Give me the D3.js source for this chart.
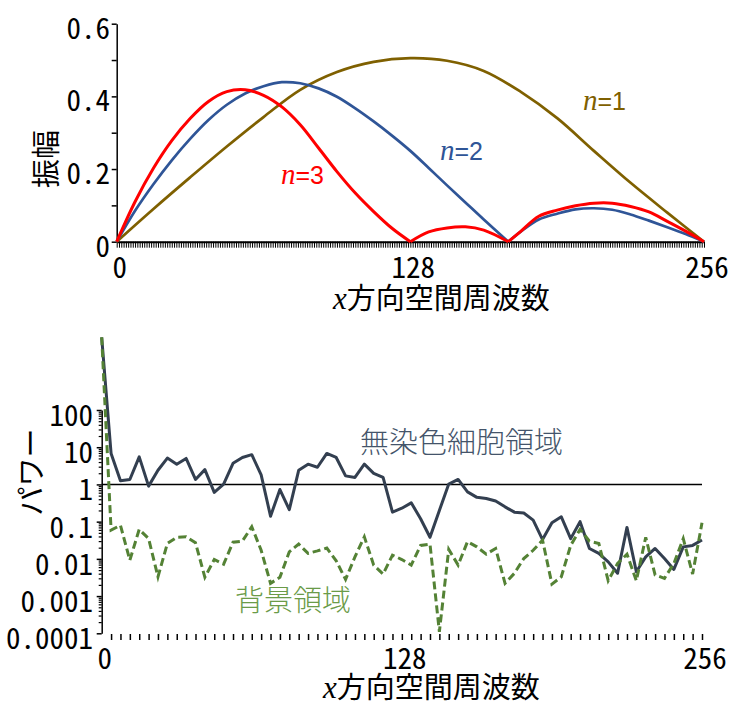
<!DOCTYPE html>
<html>
<head>
<meta charset="utf-8">
<script src="https://cdn.jsdelivr.net/npm/d3@7"></script>
<style>
  body { margin: 0; background: #fff; }
  .tick-label { font-family: "Noto Sans Mono CJK JP", "DejaVu Sans Mono", monospace; font-size: 29px; fill: #000; }
  .jp { font-family: "Noto Sans CJK JP", sans-serif; font-size: 29px; }
</style>
</head>
<body>
<div id="chart"></div>
<script>
// 上段: 振幅スペクトル (n=1,2,3)
const n1Freq = [0, 16, 32, 48, 64, 80, 96, 112, 128, 144, 160, 176, 192, 208, 224, 240, 256];
const n1Amp = [0, 0.09, 0.177, 0.262, 0.343, 0.418, 0.467, 0.495, 0.505, 0.498, 0.47, 0.413, 0.34, 0.25, 0.162, 0.08, 0];

const n23Freq = [0, 8, 16, 24, 32, 40, 48, 56, 64, 72, 80, 88, 96, 104, 112, 120, 128, 136, 144, 152, 160, 170.7,
                 176, 184, 192, 200, 208, 216, 224, 232, 240, 248, 256];
const n2Amp = [0, 0.085, 0.158, 0.224, 0.283, 0.335, 0.377, 0.408, 0.428, 0.439, 0.436, 0.422, 0.399, 0.367, 0.331, 0.292,
               0.25, 0.203, 0.155, 0.108, 0.061, 0, 0.027, 0.061, 0.077, 0.089, 0.092, 0.088, 0.075, 0.058, 0.04, 0.021, 0];
const n3Amp = [0, 0.11, 0.202, 0.278, 0.339, 0.386, 0.413, 0.418, 0.403, 0.371, 0.322, 0.258, 0.193, 0.134, 0.083, 0.037,
               0, 0.027, 0.038, 0.041, 0.032, 0, 0.028, 0.07, 0.087, 0.099, 0.106, 0.106, 0.097, 0.082, 0.056, 0.029, 0];

const topYTicks = [0, 0.1, 0.2, 0.3, 0.4, 0.5, 0.6];
const topYLabels = [0, 0.2, 0.4, 0.6];
const xLabels = [0, 128, 256];

// 下段: パワースペクトル
const powerFreq = d3.range(0, 257, 4);
const cellPower = [9000, 6.8, 1.25, 1.36, 5.5, 0.9, 2.4, 5.1, 3.5, 5.0, 1.36, 2.5, 0.61, 1.02, 3.7, 5.3, 6.3, 1.8, 0.14, 0.73,
                   0.21, 2.4, 3.5, 2.9, 6.8, 5.3, 1.7, 1.54, 3.5, 1.98, 1.54, 0.18, 0.23, 0.32, 0.12, 0.038, 0.2, 1.02, 1.36, 0.63,
                   0.45, 0.42, 0.36, 0.25, 0.18, 0.17, 0.11, 0.033, 0.093, 0.135, 0.035, 0.1, 0.019, 0.014, 0.0083, 0.0041, 0.07,
                   0.0045, 0.0113, 0.019, 0.0102, 0.0052, 0.021, 0.023, 0.032];
const bgPower = [9000, 0.059, 0.08, 0.0092, 0.062, 0.035, 0.0033, 0.026, 0.038, 0.039, 0.027, 0.0032, 0.0096, 0.0072, 0.028,
                 0.03, 0.073, 0.017, 0.0022, 0.0032, 0.0155, 0.025, 0.014, 0.0164, 0.0195, 0.0089, 0.0028, 0.0113, 0.039, 0.0068,
                 0.0039, 0.0126, 0.0096, 0.0068, 0.023, 0.025, 0.00011, 0.018, 0.0068, 0.029, 0.021, 0.0134, 0.019, 0.0022,
                 0.0041, 0.0102, 0.017, 0.032, 0.0021, 0.0033, 0.023, 0.062, 0.03, 0.026, 0.0026, 0.0075, 0.0134, 0.0026, 0.038,
                 0.0037, 0.003, 0.0075, 0.035, 0.0039, 0.093];
const logMajor = [100, 10, 1, 0.1, 0.01, 0.001, 0.0001];
const logLabels = ["100", "10", "1", "0.1", "0.01", "0.001", "0.0001"];

const svg = d3.select("#chart").append("svg")
    .attr("width", 734)
    .attr("height", 704);

// ---------- 上段 ----------
const x1 = d3.scaleLinear().domain([0, 256]).range([116.7, 704]);
const y1 = d3.scaleLinear().domain([0, 0.6]).range([241.7, 23.7]);

const gx1 = svg.append("g").attr("transform", `translate(0,${y1(0)})`)
    .call(d3.axisBottom(x1).tickValues(d3.range(0, 257, 1)).tickSize(6).tickSizeOuter(0).tickFormat(""));
gx1.select(".domain").attr("stroke-width", 2);
gx1.selectAll(".tick line").attr("stroke-width", 1);

svg.append("g").selectAll("text").data(xLabels).join("text")
    .attr("class", "tick-label")
    .attr("x", d => x1(d) + 3)
    .attr("y", 278)
    .attr("text-anchor", "middle")
    .text(d => d);

const gy1 = svg.append("g").attr("transform", `translate(${x1(0)},0)`)
    .call(d3.axisLeft(y1).tickValues(topYTicks).tickSize(5).tickSizeOuter(0).tickFormat(""));
gy1.select(".domain").attr("stroke-width", 1.5);
gy1.selectAll(".tick line").attr("stroke-width", 1.5);

svg.append("g").selectAll("text").data(topYLabels).join("text")
    .attr("class", "tick-label")
    .attr("x", 110)
    .attr("y", d => y1(d) + 15)
    .attr("text-anchor", "end")
    .text(d => d === 0 ? "0" : d.toFixed(1));

// 0 の点で区切って描く (尖った谷を保つ)
function lobes(xs, ys) {
  const pts = xs.map((x, i) => [x, ys[i]]);
  const segs = [];
  let cur = [pts[0]];
  for (let i = 1; i < pts.length; i++) {
    cur.push(pts[i]);
    if (pts[i][1] === 0 && i < pts.length - 1) { segs.push(cur); cur = [pts[i]]; }
  }
  segs.push(cur);
  return segs;
}
const ampLine = d3.line().x(d => x1(d[0])).y(d => y1(d[1])).curve(d3.curveCatmullRom.alpha(0.5));

const ampSeries = [
  { xs: n1Freq, ys: n1Amp, color: "#7f6000", w: 2.7 },
  { xs: n23Freq, ys: n2Amp, color: "#2f5597", w: 2.7 },
  { xs: n23Freq, ys: n3Amp, color: "#ff0000", w: 3 }
];
ampSeries.forEach(s => {
  svg.append("g").selectAll("path").data(lobes(s.xs, s.ys)).join("path")
      .attr("d", ampLine)
      .attr("fill", "none")
      .attr("stroke", s.color)
      .attr("stroke-width", s.w);
});

const nLabels = [
  { t: "=3", x: 281, y: 184, color: "#ff0000" },
  { t: "=2", x: 440, y: 160, color: "#2f5597" },
  { t: "=1", x: 583, y: 110, color: "#7f6000" }
];
nLabels.forEach(l => {
  const t = svg.append("text").attr("x", l.x).attr("y", l.y).attr("fill", l.color);
  t.append("tspan").attr("font-family", "Liberation Serif").attr("font-style", "italic").attr("font-size", 29).text("n");
  t.append("tspan").attr("font-family", "Liberation Sans").attr("font-size", 25).text(l.t);
});

svg.append("text").attr("class", "jp")
    .attr("transform", "translate(57,159) rotate(-90)")
    .attr("text-anchor", "middle")
    .text("振幅");

function xTitle(x, y) {
  const t = svg.append("text").attr("x", x).attr("y", y);
  t.append("tspan").attr("font-family", "Liberation Serif").attr("font-style", "italic").attr("font-size", 31).text("x");
  t.append("tspan").attr("class", "jp").text("方向空間周波数");
}
xTitle(333, 309);

// ---------- 下段 ----------
const x2 = d3.scaleLinear().domain([0, 256]).range([101.7, 702]);
const y2 = d3.scaleLog().domain([0.0001, 100]).range([633.3, 410]);

const gx2 = svg.append("g").attr("transform", "translate(0,634)")
    .call(d3.axisBottom(x2).tickValues(d3.range(4, 257, 4)).tickSize(6).tickSizeOuter(0).tickFormat(""));
gx2.select(".domain").remove();
gx2.selectAll(".tick line").attr("stroke-width", 1.5);

svg.append("g").selectAll("text").data(xLabels).join("text")
    .attr("class", "tick-label")
    .attr("x", d => x2(d) + 3)
    .attr("y", 669)
    .attr("text-anchor", "middle")
    .text(d => d);

const minorTicks = [];
logMajor.slice(1).forEach(m => { for (let k = 2; k <= 9; k++) minorTicks.push(m * k); });

const gy2m = svg.append("g").attr("transform", `translate(${x2(0)},0)`)
    .call(d3.axisLeft(y2).tickValues(minorTicks).tickSize(3).tickSizeOuter(0).tickFormat(""));
gy2m.select(".domain").remove();
gy2m.selectAll(".tick line").attr("stroke-width", 1.2);

const gy2 = svg.append("g").attr("transform", `translate(${x2(0)},0)`)
    .call(d3.axisLeft(y2).tickValues(logMajor).tickSize(5).tickSizeOuter(0).tickFormat(""));
gy2.select(".domain").attr("stroke-width", 1.5);
gy2.selectAll(".tick line").attr("stroke-width", 1.5);

svg.append("g").selectAll("text").data(logMajor).join("text")
    .attr("class", "tick-label")
    .attr("x", 93)
    .attr("y", d => y2(d) + 16)
    .attr("text-anchor", "end")
    .text((d, i) => logLabels[i]);

svg.append("line")
    .attr("x1", x2(0)).attr("x2", x2(256))
    .attr("y1", y2(1)).attr("y2", y2(1))
    .attr("stroke", "#000")
    .attr("stroke-width", 1.5);

const powLine = d3.line().x((d, i) => x2(powerFreq[i])).y(d => y2(d));

svg.append("path")
    .datum(cellPower)
    .attr("d", powLine)
    .attr("fill", "none")
    .attr("stroke", "#333f50")
    .attr("stroke-width", 3)
    .attr("stroke-linejoin", "round");

svg.append("path")
    .datum(bgPower)
    .attr("d", powLine)
    .attr("fill", "none")
    .attr("stroke", "#548235")
    .attr("stroke-width", 3)
    .attr("stroke-dasharray", "8,4");

svg.append("text").attr("class", "jp")
    .attr("x", 360).attr("y", 453)
    .attr("fill", "#44546a")
    .attr("font-weight", 300)
    .text("無染色細胞領域");

svg.append("text").attr("class", "jp")
    .attr("x", 235).attr("y", 611)
    .attr("fill", "#6a9b48")
    .attr("font-weight", 300)
    .text("背景領域");

svg.append("text").attr("class", "jp")
    .attr("transform", "translate(42,472) rotate(-90)")
    .attr("text-anchor", "middle")
    .text("パワー");

xTitle(323, 698);
</script>
</body>
</html>
